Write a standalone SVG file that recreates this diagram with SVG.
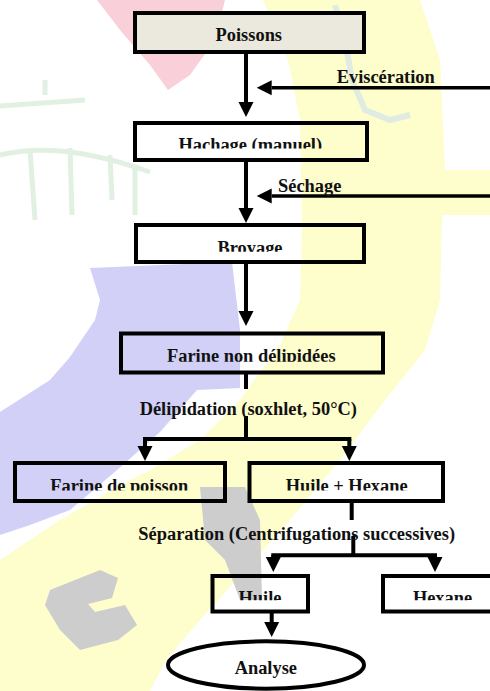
<svg xmlns="http://www.w3.org/2000/svg" width="490" height="691" viewBox="0 0 490 691">
<style>
.box{fill:none;stroke:#000;stroke-width:4}
.t{font-family:"Liberation Serif","Times New Roman",serif;font-weight:bold;font-size:18.4px;fill:#111}
.m{text-anchor:middle}
.c{stroke:#000;stroke-width:4;fill:none}
.h{stroke:#000;stroke-width:3.5;fill:none}
</style>
<defs>
<marker id="ah" markerUnits="userSpaceOnUse" markerWidth="16" markerHeight="16" refX="0" refY="7.5" orient="auto" overflow="visible">
<path d="M0,0 L15,7.5 L0,15 Z" fill="#000"/>
</marker>
<clipPath id="c1"><rect x="0" y="0" width="490" height="148.5"/></clipPath>
<clipPath id="c2"><rect x="0" y="0" width="490" height="251.7"/></clipPath>
<clipPath id="c3"><rect x="0" y="0" width="490" height="361.8"/></clipPath>
<clipPath id="c4"><rect x="0" y="0" width="490" height="490.5"/></clipPath>
<clipPath id="c5"><rect x="0" y="0" width="490" height="600.3"/></clipPath>
</defs>
<g id="watermark">
<polygon points="97,0 225,0 215,40 190,75 168,90 150,65 120,30" fill="#f9d0da"/>
<polygon points="263,0 420,0 440,60 445,170 490,170 490,215 442,215 440,300 425,350 385,400 340,460 290,520 250,565 200,620 166,660 150,691 0,691 0,560 60,520 130,480 150,470 200,440 240,400 280,345 300,300 302,230 300,120 288,60" fill="#fefdcc"/>
<polygon points="90,268 232,262 240,330 240,388 197,390 160,432 117,470 70,510 30,525 0,535 0,412 50,380 70,357 95,320 100,300" fill="#d2d0f6"/>
<g fill="none" stroke="#e2f0e2" stroke-width="5">
<path d="M0,106 L85,100 M45,95 L45,80"/>
<path d="M0,155 Q60,140 150,172 M30,150 L35,220 M70,148 L72,215 M110,155 L112,200 M135,165 L135,215"/>
</g>
<path d="M335,5 L345,40 L352,80 L365,110 L390,120 L410,115" fill="none" stroke="#e0ece2" stroke-width="6"/>
<g fill="#cdcdcd">
<polygon points="200,487 245,487 260,520 262,600 240,600 225,560 205,540"/>
<polygon points="50,590 100,570 118,578 112,598 88,604 95,612 125,605 137,625 118,640 80,650 60,630 45,605"/>
</g>
</g>
<g id="connectors">
<line class="c" x1="246" y1="54" x2="246" y2="102" marker-end="url(#ah)"/>
<line class="h" x1="490" y1="87.7" x2="271.7" y2="87.7" marker-end="url(#ah)"/>
<line class="c" x1="246" y1="162" x2="246" y2="208" marker-end="url(#ah)"/>
<line class="h" x1="490" y1="196" x2="271.7" y2="196" marker-end="url(#ah)"/>
<line class="c" x1="246" y1="264" x2="246" y2="311" marker-end="url(#ah)"/>
<line class="c" x1="246" y1="374" x2="246" y2="389"/>
<line class="c" x1="246" y1="416" x2="246" y2="439"/>
<line class="c" x1="143" y1="439" x2="351.3" y2="439"/>
<line class="c" x1="145" y1="439" x2="145" y2="446" marker-end="url(#ah)"/>
<line class="c" x1="349.3" y1="439" x2="349.3" y2="446" marker-end="url(#ah)"/>
<line class="c" x1="351.7" y1="503" x2="351.7" y2="520"/>
<line class="c" x1="353.3" y1="536" x2="353.3" y2="555"/>
<line class="c" x1="271.3" y1="555.3" x2="437" y2="555.3"/>
<line class="c" x1="273.3" y1="555" x2="273.3" y2="557" marker-end="url(#ah)"/>
<line class="c" x1="435" y1="555" x2="435" y2="557" marker-end="url(#ah)"/>
<line class="c" x1="271.7" y1="613" x2="271.7" y2="622" marker-end="url(#ah)"/>
</g>
<g id="poissons">
<rect class="box" x="135" y="13" width="229" height="39" style="fill:#ebe9dd"/>
<text class="t m" x="248.8" y="40.7">Poissons</text>
</g>
<text class="t" x="336.7" y="82.7">Eviscération</text>
<g id="hachage">
<rect class="box" x="135" y="123" width="232" height="37"/>
<text class="t m" x="250.3" y="150.5" clip-path="url(#c1)">Hachage (manuel)</text>
</g>
<text class="t" x="278" y="192">Séchage</text>
<g id="broyage">
<rect class="box" x="136" y="225" width="228" height="37"/>
<text class="t m" x="250" y="254" clip-path="url(#c2)">Broyage</text>
</g>
<g id="farine-non-delipidees">
<rect class="box" x="121" y="333.5" width="262" height="39"/>
<text class="t m" x="251.3" y="362.4" clip-path="url(#c3)">Farine non délipidées</text>
</g>
<text class="t m" x="248.3" y="415">Délipidation (soxhlet, 50°C)</text>
<g id="farine-de-poisson">
<rect class="box" x="15" y="463" width="210" height="38"/>
<text class="t m" x="119.2" y="492.2" clip-path="url(#c4)">Farine de poisson</text>
</g>
<g id="huile-hexane">
<rect class="box" x="249.5" y="463" width="193.5" height="38"/>
<text class="t m" x="346.7" y="492.2" clip-path="url(#c4)">Huile + Hexane</text>
</g>
<text class="t m" x="296.7" y="540">Séparation (Centrifugations successives)</text>
<g id="huile">
<rect class="box" x="212.5" y="576" width="95.5" height="35.5"/>
<text class="t m" x="260" y="603.9" clip-path="url(#c5)">Huile</text>
</g>
<g id="hexane">
<rect class="box" x="383" y="576" width="120" height="35.5"/>
<text class="t m" x="442.5" y="603.9" clip-path="url(#c5)">Hexane</text>
</g>
<g id="analyse">
<ellipse class="box" cx="266" cy="665" rx="98" ry="23.7" style="fill:#fff"/>
<text class="t m" x="265.8" y="674">Analyse</text>
</g>
</svg>
